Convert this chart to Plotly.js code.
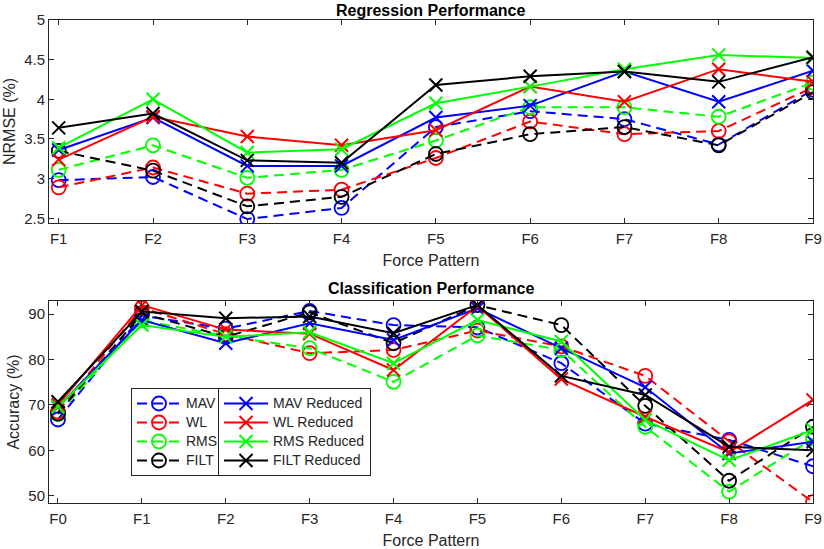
<!DOCTYPE html>
<html>
<head>
<meta charset="utf-8">
<script src="https://cdn.plot.ly/plotly-3.0.1.min.js"></script>
<style>
  html, body { margin: 0; padding: 0; background: #fff; }
  #chart { width: 824px; height: 549px; }
</style>
</head>
<body>
<div id="chart"></div>
<script>
// Regression panel (NRMSE %)
const regLabels = ['F1', 'F2', 'F3', 'F4', 'F5', 'F6', 'F7', 'F8', 'F9'];
const regMAV   = [2.98, 3.02, 2.49, 2.63, 3.65, 3.85, 3.75, 3.43, 4.12];
const regWL    = [2.89, 3.14, 2.81, 2.86, 3.26, 3.72, 3.56, 3.60, 4.15];
const regRMS   = [3.11, 3.42, 3.01, 3.11, 3.48, 3.90, 3.90, 3.78, 4.21];
const regFILT  = [3.35, 3.10, 2.65, 2.77, 3.31, 3.56, 3.65, 3.42, 4.09];
const regMAVr  = [3.36, 3.77, 3.16, 3.16, 3.77, 3.92, 4.35, 3.97, 4.36];
const regWLr   = [3.24, 3.78, 3.53, 3.42, 3.61, 4.16, 3.97, 4.38, 4.22];
const regRMSr  = [3.39, 4.00, 3.33, 3.37, 3.95, 4.16, 4.38, 4.56, 4.52];
const regFILTr = [3.64, 3.82, 3.23, 3.20, 4.18, 4.29, 4.35, 4.22, 4.53];

// Classification panel (Accuracy %)
const clsLabels = ['F0', 'F1', 'F2', 'F3', 'F4', 'F5', 'F6', 'F7', 'F8', 'F9'];
const clsMAV   = [66.8, 89.7, 86.8, 90.7, 87.6, 87.1, 79.2, 65.9, 62.3, 56.5];
const clsWL    = [68.5, 91.4, 85.6, 81.4, 82.1, 86.4, 82.9, 76.4, 62.0, 48.6];
const clsRMS   = [68.0, 88.6, 85.2, 82.5, 75.1, 85.3, 82.1, 65.2, 50.9, 62.6];
const clsFILT  = [68.1, 90.2, 85.0, 90.4, 83.6, 92.0, 87.6, 69.8, 53.3, 65.2];
const clsMAVr  = [69.5, 88.7, 83.6, 88.0, 84.3, 91.3, 82.5, 73.9, 59.3, 61.9];
const clsWLr   = [70.0, 92.0, 86.6, 85.7, 77.7, 91.8, 75.7, 67.4, 59.6, 71.1];
const clsRMSr  = [69.6, 87.6, 85.0, 86.0, 79.2, 88.7, 84.0, 66.7, 57.8, 64.5];
const clsFILTr = [70.7, 90.6, 89.1, 89.5, 85.8, 92.0, 76.4, 72.2, 60.8, 60.0];

const seriesNames = ['MAV', 'WL', 'RMS', 'FILT', 'MAV Reduced', 'WL Reduced', 'RMS Reduced', 'FILT Reduced'];
const seriesColors = ['#0000ff', '#ff0000', '#00ff00', '#000000', '#0000ff', '#ff0000', '#00ff00', '#000000'];

const regSeries = [regMAV, regWL, regRMS, regFILT, regMAVr, regWLr, regRMSr, regFILTr];
const clsSeries = [clsMAV, clsWL, clsRMS, clsFILT, clsMAVr, clsWLr, clsRMSr, clsFILTr];

const FONT = "'Liberation Sans', Arial, Helvetica, sans-serif";
const AX = '#262626';

// legend rows are spaced from the legend font (12px), the text itself is drawn a bit larger
function legendName(s) {
  return '<span style="font-size:14px">' + s + '</span>';
}

function makeTrace(i, xs, ys, xa, ya, inLegend) {
  const reduced = i >= 4;
  return {
    x: xs,
    y: ys,
    xaxis: xa,
    yaxis: ya,
    name: legendName(seriesNames[i]),
    type: 'scatter',
    mode: 'lines+markers',
    showlegend: inLegend,
    legend: reduced ? 'legend2' : 'legend',
    line: { color: seriesColors[i], width: 2, dash: reduced ? 'solid' : '10px,6px' },
    marker: reduced
      ? { symbol: 'x-thin-open', size: 13, color: seriesColors[i], line: { color: seriesColors[i], width: 2 } }
      : { symbol: 'circle-open', size: 14, color: seriesColors[i], line: { color: seriesColors[i], width: 1.8 } }
  };
}

const traces = [];
regSeries.forEach((ys, i) => traces.push(makeTrace(i, regLabels, ys, 'x', 'y', false)));
clsSeries.forEach((ys, i) => traces.push(makeTrace(i, clsLabels, ys, 'x2', 'y2', true)));

const titleFont = { family: FONT, size: 16, color: AX };

const axisBase = {
  showline: true,
  linecolor: AX,
  linewidth: 1,
  mirror: 'ticks',
  ticks: 'inside',
  ticklen: 5,
  tickcolor: AX,
  showgrid: false,
  zeroline: false,
  tickfont: { family: FONT, size: 15, color: AX }
};

const legendBase = {
  yanchor: 'top',
  xanchor: 'left',
  xref: 'paper',
  yref: 'paper',
  bgcolor: '#ffffff',
  bordercolor: AX,
  borderwidth: 1,
  itemwidth: 44,
  font: { family: FONT, size: 12, color: AX },
  tracegroupgap: 0
};

const layout = {
  width: 824,
  height: 549,
  margin: { l: 49, r: 11, t: 20, b: 46 },
  paper_bgcolor: '#ffffff',
  plot_bgcolor: '#ffffff',
  showlegend: true,
  xaxis: Object.assign({}, axisBase, {
    type: 'category', range: [-0.103, 8], anchor: 'y', ticklabelstandoff: 2,
    title: { text: 'Force Pattern', font: titleFont, standoff: 8 }
  }),
  yaxis: Object.assign({}, axisBase, {
    domain: [0.5797, 1], range: [2.44, 5], dtick: 0.5, tick0: 2.5, anchor: 'x',
    title: { text: 'NRMSE (%)', font: titleFont, standoff: 4 }
  }),
  xaxis2: Object.assign({}, axisBase, {
    type: 'category', range: [-0.107, 9], anchor: 'y2', ticklabelstandoff: 2,
    title: { text: 'Force Pattern', font: titleFont, standoff: 8 }
  }),
  yaxis2: Object.assign({}, axisBase, {
    domain: [0, 0.4182], range: [48.4, 92.9], dtick: 10, tick0: 50, anchor: 'x2',
    title: { text: 'Accuracy (%)', font: titleFont, standoff: 4 }
  }),
  legend: Object.assign({}, legendBase, { x: 0.1073, y: 0.2381 }),
  legend2: Object.assign({}, legendBase, { x: 0.2212, y: 0.2381 }),
  annotations: [
    {
      text: '<b>Regression Performance</b>', xref: 'paper', yref: 'paper',
      x: 0.5, y: 1.0, yshift: 10, showarrow: false, xanchor: 'center', yanchor: 'middle',
      font: { family: FONT, size: 16, color: '#000000' }
    },
    {
      text: '<b>Classification Performance</b>', xref: 'paper', yref: 'paper',
      x: 0.5, y: 0.4182, yshift: 13, showarrow: false, xanchor: 'center', yanchor: 'middle',
      font: { family: FONT, size: 16, color: '#000000' }
    }
  ]
};

Plotly.newPlot('chart', traces, layout, { displayModeBar: false, staticPlot: true });
</script>
</body>
</html>
